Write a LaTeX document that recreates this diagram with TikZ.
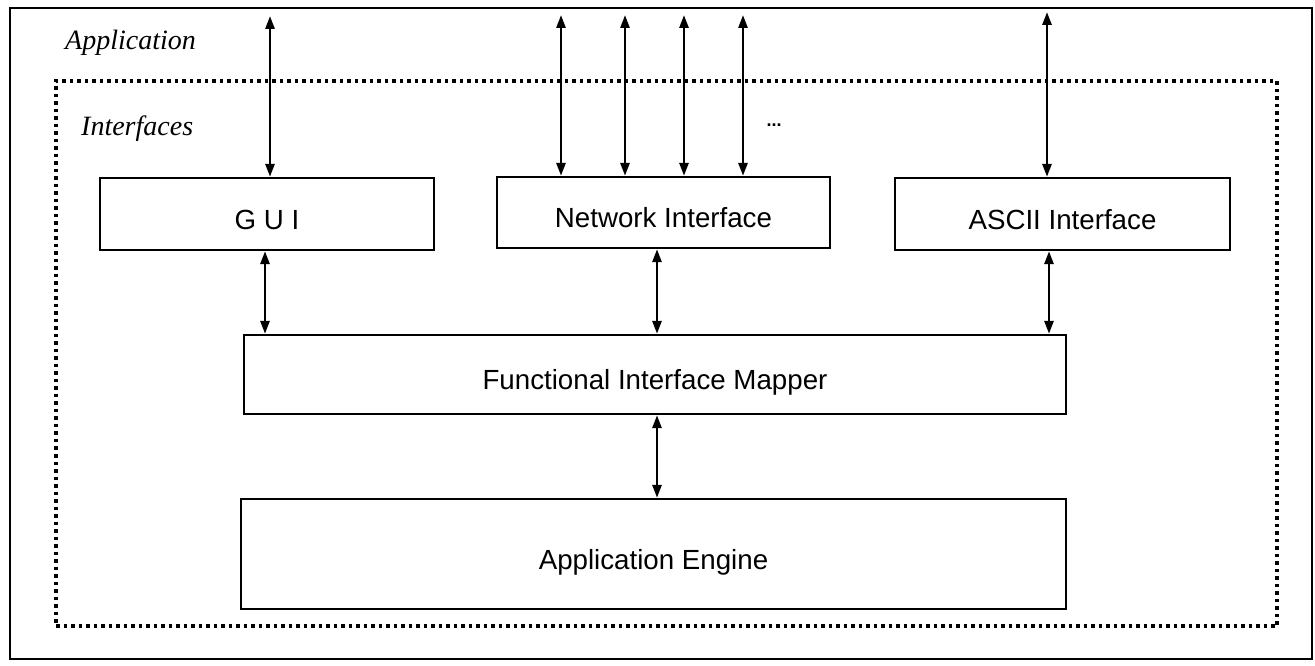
\documentclass[tikz,border=0pt]{standalone}
\usepackage{fontspec}
\setmainfont{Liberation Sans}
\newfontfamily\layerfont{Liberation Serif}
\usetikzlibrary{arrows.meta}

\begin{document}
\begin{tikzpicture}[x=1pt,y=-1pt,
  block/.style={draw, line width=2.3pt, inner sep=0pt,
    font=\fontsize{27.7pt}{30pt}\selectfont, text height=30pt, text depth=0pt},
  link/.style={line width=2.7pt,
    {Triangle[length=13pt,width=9pt]}-{Triangle[length=13pt,width=9pt]}},
  layer/.style={font=\layerfont\itshape\fontsize{28pt}{30pt}\selectfont,
    anchor=base west, inner sep=0pt},
  frame/.style={draw, line width=2.6pt, inner sep=0pt},
  boundary/.style={draw, line width=3.5pt, dash pattern=on 3.5pt off 4pt, inner sep=0pt}]

\useasboundingbox (0,0) rectangle (1315,666);

% application frame and interfaces boundary
\node[frame, minimum width=1302pt, minimum height=651pt] (app) at (661,333.5) {};
\node[boundary, minimum width=1221pt, minimum height=545pt] (ifc) at (666.5,353.5) {};

\node[layer] (applbl) at (65,50) {Application};
\node[layer] (ifclbl) at (81,136) {Interfaces};

% interface components
\node[block, minimum width=334pt, minimum height=72pt] (gui) at (267,214) {G U I};
\node[block, minimum width=333pt, minimum height=71pt] (net) at (663.5,212.5) {Network Interface};
\node[block, minimum width=335pt, minimum height=72pt] (ascii) at (1062.5,214) {ASCII Interface};

\node[block, minimum width=822pt, minimum height=79pt] (fim) at (655,374.5) {Functional Interface Mapper};
\node[block, minimum width=825pt, minimum height=110pt] (eng) at (653.5,554) {Application Engine};

\node[font=\bfseries\fontsize{18pt}{20pt}\selectfont, anchor=base, inner sep=0pt] (more) at (774,127) {...};

% outside ends of the external connections
\coordinate (tg) at (270,16);
\coordinate (tn1) at (561,15);
\coordinate (tn2) at (625,15);
\coordinate (tn3) at (684,15);
\coordinate (tn4) at (743,15);
\coordinate (ta) at (1047,12);

\draw[link] (tg) -- (tg |- gui.north);
\draw[link] (tn1) -- (tn1 |- net.north);
\draw[link] (tn2) -- (tn2 |- net.north);
\draw[link] (tn3) -- (tn3 |- net.north);
\draw[link] (tn4) -- (tn4 |- net.north);
\draw[link] (ta) -- (ta |- ascii.north);

% internal connections
\draw[link] ([xshift=-2pt]gui.south) -- ([xshift=-2pt]gui.south |- fim.north);
\draw[link] ([xshift=-6.5pt]net.south) -- ([xshift=-6.5pt]net.south |- fim.north);
\draw[link] ([xshift=-13.5pt]ascii.south) -- ([xshift=-13.5pt]ascii.south |- fim.north);
\draw[link] ([xshift=2pt]fim.south) -- ([xshift=2pt]fim.south |- eng.north);

\end{tikzpicture}
\end{document}
